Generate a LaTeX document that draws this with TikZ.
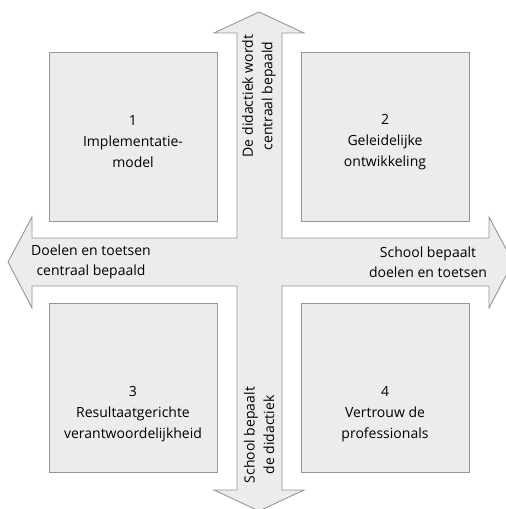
\documentclass[tikz,border=0pt]{standalone}
\usepackage{fontspec}
\setmainfont{Open Sans}
\usetikzlibrary{positioning}
\definecolor{crossfill}{RGB}{235,236,235}
\definecolor{crossline}{RGB}{150,150,150}
\tikzset{%
	quadrant/.style = {draw=crossline, fill=crossfill, line width=0.9bp, minimum width=168bp, minimum height=169bp, inner sep=0pt},
	boxtext/.style  = {align=center, font=\fontsize{14bp}{21bp}\selectfont},
	axistext/.style = {align=center, font=\fontsize{14bp}{19.5bp}\selectfont},
}
\begin{document}
\begin{tikzpicture}[x=1bp,y=-1bp]
	\useasboundingbox (0,0) rectangle (506,509);
	\clip (0,0) rectangle (506,509);
	% the cross with four arrow heads
	\draw[draw=crossline, fill=crossfill, line width=0.9bp, line join=miter]
		(259,12) -- (304,33) -- (282,33) -- (282,238) -- (489,238) -- (489,217) -- (513,262)
		-- (489,308) -- (489,286) -- (282,286) -- (282,490) -- (304,490) -- (259,511)
		-- (214,490) -- (237,490) -- (237,286) -- (32,286) -- (32,308) -- (8,262)
		-- (32,217) -- (32,238) -- (237,238) -- (237,33) -- (214,33) -- cycle;
	
	% quadrants
	\node[quadrant] (q1) at (133,136.5) {};
	\node[quadrant] (q2) at (385,136.5) {};
	\node[quadrant] (q3) at (133,388) {};
	\node[quadrant] (q4) at (385,388) {};
	
	\node[boxtext] (t1) at (133,142) {1\\Implementatie-\\model};
	\node[boxtext] (t2) at (385,142) {2\\Geleidelijke\\ontwikkeling};
	\node[boxtext] (t3) at (133,414) {3\\Resultaatgerichte\\verantwoordelijkheid};
	\node[boxtext] (t4) at (385,414) {4\\Vertrouw de\\professionals};
	
	% axis labels
	\node[axistext, rotate=90] (top)   at (259,96)  {De didactiek wordt\\centraal bepaald};
	\node[axistext, rotate=90] (bot)   at (259,435) {School bepaalt\\de didactiek};
	\node[axistext] (left)  at (91,262)  {Doelen en toetsen\\centraal bepaald};
	\node[axistext] (right) at (428,262) {School bepaalt\\doelen en toetsen};
\end{tikzpicture}
\end{document}
